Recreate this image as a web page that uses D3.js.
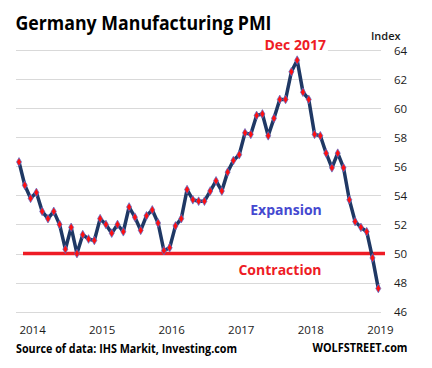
<!DOCTYPE html>
<html><head><meta charset="utf-8">
<script src="https://cdn.jsdelivr.net/npm/d3@7"></script>
<style>body{margin:0;background:#fff}svg{display:block}</style>
</head><body><div id="c"></div>
<script>
const months = ["Dec 2013","Jan 2014","Feb 2014","Mar 2014","Apr 2014","May 2014","Jun 2014","Jul 2014","Aug 2014","Sep 2014","Oct 2014","Nov 2014","Dec 2014",
"Jan 2015","Feb 2015","Mar 2015","Apr 2015","May 2015","Jun 2015","Jul 2015","Aug 2015","Sep 2015","Oct 2015","Nov 2015","Dec 2015",
"Jan 2016","Feb 2016","Mar 2016","Apr 2016","May 2016","Jun 2016","Jul 2016","Aug 2016","Sep 2016","Oct 2016","Nov 2016","Dec 2016",
"Jan 2017","Feb 2017","Mar 2017","Apr 2017","May 2017","Jun 2017","Jul 2017","Aug 2017","Sep 2017","Oct 2017","Nov 2017","Dec 2017",
"Jan 2018","Feb 2018","Mar 2018","Apr 2018","May 2018","Jun 2018","Jul 2018","Aug 2018","Sep 2018","Oct 2018","Nov 2018","Dec 2018",
"Jan 2019","Feb 2019"];
const pmi = [56.3,54.7,53.8,54.2,52.9,52.4,52.9,52.0,50.3,51.8,50.0,51.3,51.0,
50.9,52.4,52.0,51.4,52.0,51.5,53.2,52.5,51.6,52.6,53.0,52.1,
50.2,50.4,51.9,52.4,54.4,53.7,53.6,53.6,54.3,55.0,54.3,55.6,
56.4,56.8,58.3,58.2,59.5,59.6,58.1,59.3,60.6,60.6,62.5,63.3,
61.1,60.6,58.2,58.1,56.9,55.9,56.9,55.9,53.7,52.2,51.8,51.5,
49.7,47.6];
const yearLabels = ["2014","2015","2016","2017","2018","2019"];
const yTicks = [46,48,50,52,54,56,58,60,62,64];
const threshold = 50;
const peakLabel = "Dec 2017";

const W = 432, H = 368;
const svg = d3.select("#c").append("svg").attr("width", W).attr("height", H);
const font = "'Open Sans', 'Noto Sans', sans-serif";

const x = d3.scaleLinear().domain([0, months.length - 1]).range([19, 378.3]);
const y = d3.scaleLinear().domain([46, 64]).range([311.7, 50]);

// gridlines
svg.append("g").selectAll("line").data(yTicks).join("line")
  .attr("x1", 16).attr("x2", 381)
  .attr("y1", d => Math.round(y(d)) + 0.5).attr("y2", d => Math.round(y(d)) + 0.5)
  .attr("stroke", "#d9d9d9").attr("stroke-width", 1);

// y labels
svg.append("g").selectAll("text").data(yTicks).join("text")
  .attr("x", 394).attr("y", d => y(d) + 4.5)
  .attr("font-family", font).attr("font-size", 11.5).attr("fill", "#1a1a1a")
  .text(d => d);

svg.append("text").attr("x", 371).attr("y", 39.5)
  .attr("font-family", font).attr("font-size", 11).attr("font-weight", 600).attr("fill", "#1a1a1a")
  .text("Index");

// x labels
const tickOffset = 2.35;
svg.append("g").selectAll("text").data(yearLabels).join("text")
  .attr("x", (d, i) => x(tickOffset + 12 * i)).attr("y", 333.5)
  .attr("text-anchor", "middle")
  .attr("font-family", font).attr("font-size", 11.5).attr("fill", "#1a1a1a")
  .text(d => d);

// threshold line
svg.append("line").attr("x1", 23).attr("x2", 385)
  .attr("y1", y(threshold)).attr("y2", y(threshold))
  .attr("stroke", "#ee1c25").attr("stroke-width", 3.5);

// peak label with white background
const peakIdx = months.indexOf(peakLabel);
const peakG = svg.append("g");
const pl = peakG.append("text").attr("x", x(peakIdx) - 2).attr("y", 50)
  .attr("text-anchor", "middle")
  .attr("font-family", font).attr("font-size", 14).attr("font-weight", 700).attr("fill", "#ee1c25")
  .text(peakLabel);
const bb = pl.node().getBBox();
peakG.insert("rect", () => pl.node()).attr("x", bb.x - 2).attr("y", bb.y).attr("width", bb.width + 4).attr("height", bb.height)
  .attr("fill", "#fff");

// line
const line = d3.line().x((d, i) => x(i)).y(d => y(d));
svg.append("path").datum(pmi).attr("d", line)
  .attr("fill", "none").attr("stroke", "#1f3864").attr("stroke-width", 3.5)
  .attr("stroke-linejoin", "round");

// markers
svg.append("g").selectAll("path").data(pmi).join("path")
  .attr("transform", (d, i) => `translate(${x(i)},${y(d)})`)
  .attr("d", d3.symbol(d3.symbolDiamond, 22)())
  .attr("fill", "#ff1010").attr("stroke", "#5570d0").attr("stroke-width", 0.7);

// annotations
svg.append("text").attr("x", 286).attr("y", 214.5).attr("text-anchor", "middle")
  .attr("font-family", font).attr("font-size", 14).attr("font-weight", 700).attr("fill", "#4549d0")
  .text("Expansion");
svg.append("text").attr("x", 280).attr("y", 274.5).attr("text-anchor", "middle")
  .attr("font-family", font).attr("font-size", 14).attr("font-weight", 700).attr("fill", "#ee1c25")
  .text("Contraction");

// title
svg.append("text").attr("x", 15.5).attr("y", 30)
  .attr("font-family", font).attr("font-size", 19.5).attr("font-weight", 700).attr("fill", "#000")
  .attr("textLength", 256).attr("lengthAdjust", "spacingAndGlyphs")
  .text("Germany Manufacturing PMI");

// footer
svg.append("text").attr("x", 16).attr("y", 353)
  .attr("font-family", font).attr("font-size", 12).attr("font-weight", 700).attr("fill", "#000")
  .attr("textLength", 221).attr("lengthAdjust", "spacingAndGlyphs")
  .text("Source of data: IHS Markit, Investing.com");
svg.append("text").attr("x", 407.5).attr("y", 351.5).attr("text-anchor", "end")
  .attr("font-family", font).attr("font-size", 12).attr("font-weight", 700).attr("fill", "#000")
  .attr("textLength", 95).attr("lengthAdjust", "spacingAndGlyphs")
  .text("WOLFSTREET.com");
</script></body></html>
